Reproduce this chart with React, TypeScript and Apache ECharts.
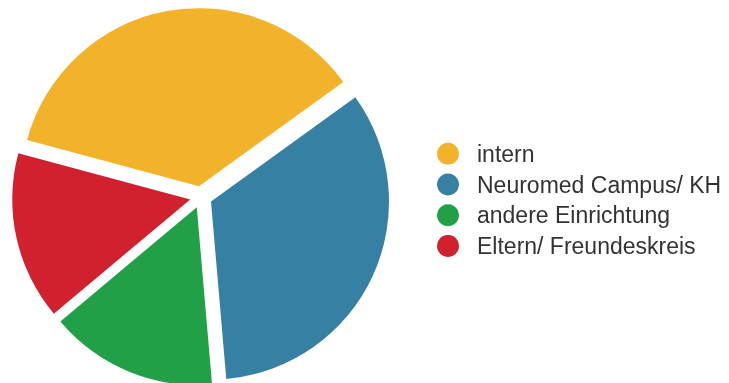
import React, { useEffect, useRef } from "react";
import * as echarts from "echarts";

const categories = ["intern", "Neuromed Campus/ KH", "andere Einrichtung", "Eltern/ Freundeskreis"];
const values = [47, 44, 20, 20];
const colors = ["#F2B22A", "#3680A4", "#22A048", "#D1212E"];

export default function App() {
  const ref = useRef<HTMLDivElement>(null);
  useEffect(() => {
    if (!ref.current) return;
    const chart = echarts.init(ref.current, undefined, { renderer: "svg" });
    chart.setOption({
      animation: false,
      legend: {
        orient: "vertical",
        left: 437,
        top: 142.3,
        padding: 0,
        icon: "circle",
        itemWidth: 22,
        itemHeight: 22,
        itemGap: 7.7,
        selectedMode: false,
        data: categories,
        textStyle: {
          fontFamily: "Liberation Sans, Arial, sans-serif",
          fontSize: 23,
          color: "#333333",
          lineHeight: 22,
          padding: [0, 0, 0, 13],
        },
      },
      series: [
        {
          type: "pie",
          center: [201, 197],
          radius: 178,
          startAngle: 165,
          clockwise: true,
          selectedMode: "multiple",
          selectedOffset: 11,
          label: { show: false },
          labelLine: { show: false },
          emphasis: { disabled: true },
          data: categories.map((name, i) => ({
            name,
            value: values[i],
            selected: true,
            itemStyle: { color: colors[i], borderWidth: 0 },
            select: { itemStyle: { color: colors[i], borderWidth: 0 } },
          })),
        },
      ],
    });
    return () => chart.dispose();
  }, []);
  return (
    <div
      ref={ref}
      style={{ position: "fixed", left: 0, top: 0, width: 729, height: 383 }}
    />
  );
}
